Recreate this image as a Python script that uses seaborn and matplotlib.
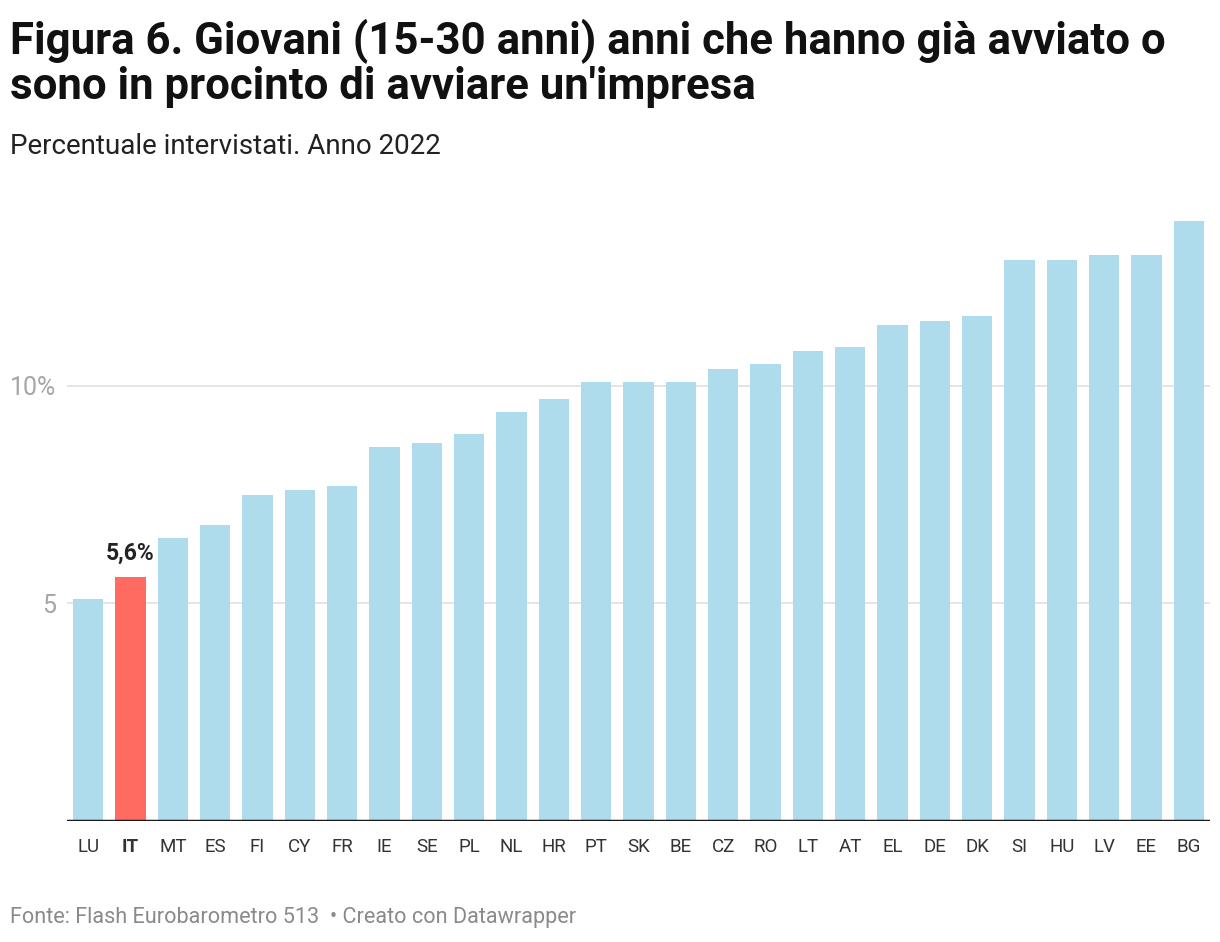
import numpy as np
import pandas as pd
import seaborn as sns
from matplotlib import pyplot as plt

## dati (percentuale intervistati, 2022)
paesi = ['LU', 'IT', 'MT', 'ES', 'FI', 'CY', 'FR', 'IE', 'SE', 'PL', 'NL', 'HR', 'PT', 'SK',
         'BE', 'CZ', 'RO', 'LT', 'AT', 'EL', 'DE', 'DK', 'SI', 'HU', 'LV', 'EE', 'BG']
valori = [5.1, 5.6, 6.5, 6.8, 7.5, 7.6, 7.7, 8.6, 8.7, 8.9, 9.4, 9.7, 10.1, 10.1,
          10.1, 10.4, 10.5, 10.8, 10.9, 11.4, 11.5, 11.6, 12.9, 12.9, 13.0, 13.0, 13.8]
evidenza = 'IT'
tick_y = [5, 10]
tick_y_label = ['5', '10%']

df = pd.DataFrame({'paese': paesi, 'valore': valori})
colori = {p: ('#ff6b61' if p == evidenza else '#aedcec') for p in paesi}

sns.set_style('white')
plt.rcParams['font.family'] = ['Roboto', 'DejaVu Sans']

fig = plt.figure(figsize=(12.2, 9.42), dpi=100)
ax = fig.add_axes([0.0549, 0.1285, 0.9369, 0.6465])

sns.barplot(data=df, x='paese', y='valore', hue='paese', palette=colori,
            legend=False, width=0.71, saturation=1, linewidth=0, ax=ax)

ax.set_xlim(-0.5, len(paesi) - 0.5)
ax.set_ylim(0, 14)
ax.set_yticks(tick_y)
ax.set_yticklabels(tick_y_label)
for y in tick_y:
    ax.axhline(y, color='#e3e3e3', lw=1.3, zorder=0)
ax.axhline(0, color='#1a1a1a', lw=2.5, zorder=3)
ax.set_axisbelow(True)

for s in ax.spines.values():
    s.set_visible(False)
ax.tick_params(axis='y', length=0, pad=8, labelsize=18, labelcolor='#a6a6a6')
ax.tick_params(axis='x', length=0, pad=12, labelsize=13.5, labelcolor='#333333')
ax.set_xlabel('')
ax.set_ylabel('')
for lab in ax.get_xticklabels():
    if lab.get_text() == evidenza:
        lab.set_fontweight('bold')

i = paesi.index(evidenza)
ax.text(i, valori[i] + 0.3, '5,6%', ha='center', va='bottom', fontsize=16.5,
        fontweight='bold', color='#222222')

fig.text(0.008, 0.98, "Figura 6. Giovani (15-30 anni) anni che hanno già avviato o\nsono in procinto di avviare un'impresa",
         ha='left', va='top', fontsize=31.5, fontweight='bold', color='#111111', linespacing=1.06)
fig.text(0.008, 0.845, 'Percentuale intervistati. Anno 2022', ha='left', va='center',
         fontsize=20, color='#222222')
fig.text(0.008, 0.026, 'Fonte: Flash Eurobarometro 513  • Creato con Datawrapper', ha='left',
         va='center', fontsize=15.6, color='#8a8a8a')

plt.savefig('out.png', dpi=100)
